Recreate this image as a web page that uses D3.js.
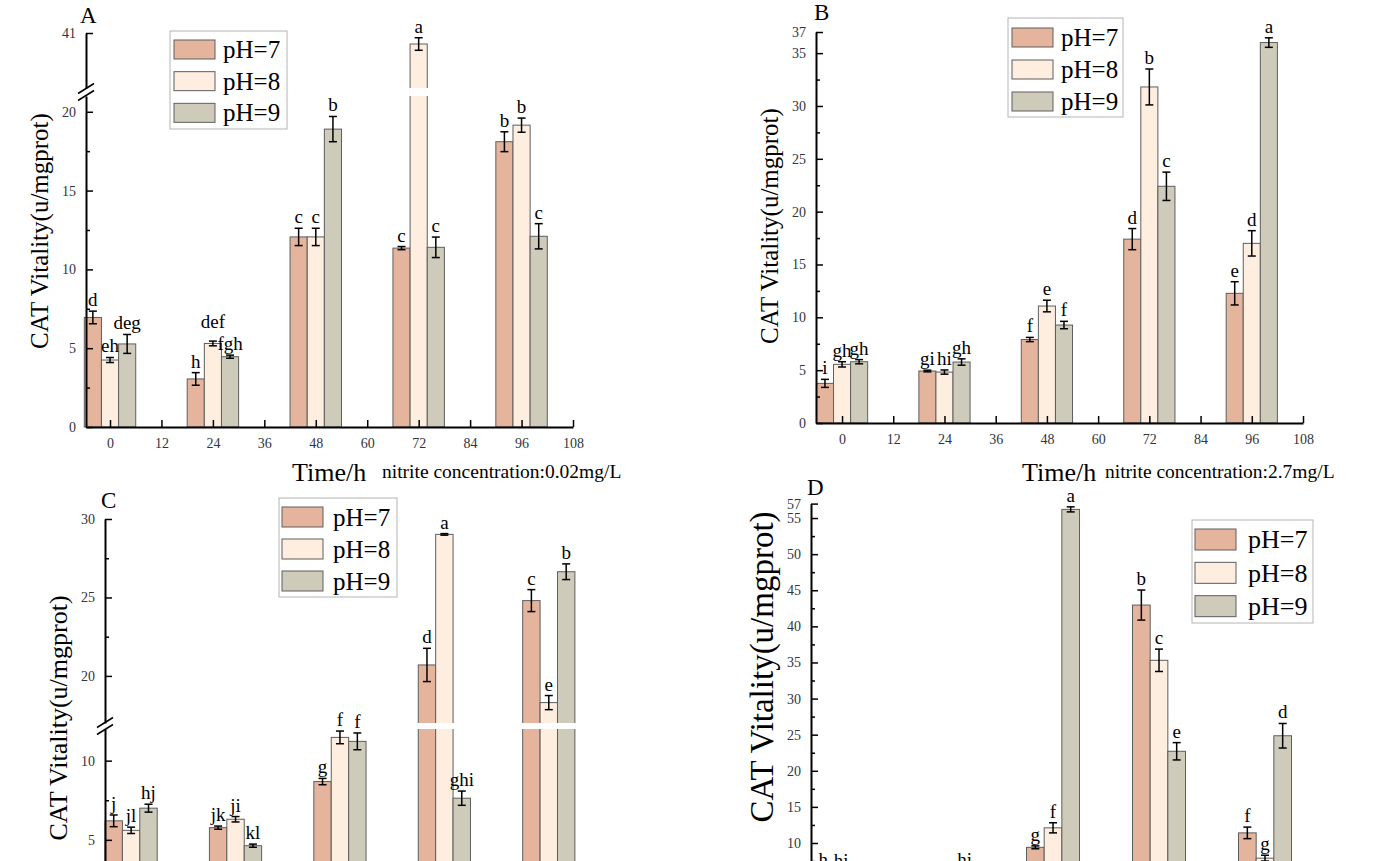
<!DOCTYPE html>
<html>
<head>
<meta charset="utf-8">
<script src="https://cdn.jsdelivr.net/npm/d3@7"></script>
<style>
  body { margin: 0; background: #fff; }
  text { font-family: "Liberation Serif", "Times New Roman", serif; }
</style>
</head>
<body>
<svg id="chart" width="1400" height="861"></svg>
<script>
// data
const times = [0, 24, 48, 72, 96];
const series = ["pH=7", "pH=8", "pH=9"];
const colors = ["#e5b49d", "#fdeee0", "#cecbbb"];
const xTicks = [0, 12, 24, 36, 48, 60, 72, 84, 96, 108];

// rows = pH7, pH8, pH9 ; columns = times
const meansA = [[6.95, 3.05, 12.06, 11.35, 18.1], [4.25, 5.3, 12.06, 40.3, 19.15], [5.27, 4.46, 18.9, 11.4, 12.1]];
const errA = [[0.4, 0.4, 0.55, 0.1, 0.63], [0.16, 0.15, 0.55, 0.4, 0.45], [0.6, 0.1, 0.8, 0.65, 0.8]];
const lettersA = [["d", "h", "c", "c", "b"], ["eh", "def", "c", "a", "b"], ["deg", "fgh", "b", "c", "c"]];

const meansB = [[3.75, 4.92, 7.9, 17.4, 12.27], [5.55, 4.82, 11.07, 31.8, 17.0], [5.8, 5.77, 9.27, 22.4, 36.0]];
const errB = [[0.38, 0.08, 0.2, 1.0, 1.1], [0.25, 0.2, 0.55, 1.7, 1.2], [0.2, 0.3, 0.35, 1.34, 0.45]];
const lettersB = [["i", "gi", "f", "d", "e"], ["gh", "hi", "e", "b", "d"], ["gh", "gh", "f", "c", "a"]];

const meansC = [[6.2, 5.77, 8.68, 20.7, 24.8], [5.6, 6.3, 11.47, 29.02, 18.3], [7.0, 4.63, 11.22, 7.63, 26.64]];
const errC = [[0.37, 0.1, 0.2, 1.06, 0.7], [0.2, 0.17, 0.4, 0.05, 0.45], [0.25, 0.1, 0.53, 0.45, 0.5]];
const lettersC = [["j", "jk", "g", "d", "c"], ["jl", "ji", "f", "a", "e"], ["hj", "kl", "f", "ghi", "b"]];

const meansD = [[5.7, 4.0, 9.4, 42.95, 11.4], [5.6, 4.2, 12.1, 35.3, 7.9], [4.6, 5.7, 56.2, 22.7, 24.85]];
const errD = [[0.4, 0.2, 0.2, 2.08, 0.8], [0.4, 0.3, 0.7, 1.55, 0.4], [0.3, 0.4, 0.35, 1.2, 1.7]];
const lettersD = [["h", "i", "g", "b", "f"], ["hi", "j", "f", "c", "g"], ["ij", "hi", "a", "e", "d"]];

// letters the authors lifted by hand to keep them apart: [series, time index, extra px]
const nudgeA = [[1, 1, 8]];

const svg = d3.select("#chart");

const panels = [
  { name: "A", means: meansA, err: errA, letters: lettersA, nudge: nudgeA,
    xDomain: [-5.6, 108], xRange: [86, 573],
    loDomain: [0, 21], loRange: [427, 96], loTicks: [0, 5, 10, 15, 20], loMinor: [2.5, 7.5, 12.5, 17.5],
    hiDomain: [37.5, 41], hiRange: [88, 33], hiTicks: [41], hiMinor: [],
    ylab: [48, 231, 25], label: [80, 23], nitrite: "nitrite concentration:0.02mg/L",
    title: [292, 481], nitX: 382, legend: [170, 31, 117, 98, 174, 40, 223, 25, 19] },
  { name: "B", means: meansB, err: errB, letters: lettersB, nudge: [],
    xDomain: [-6.1, 108], xRange: [816, 1303],
    loDomain: [0, 37], loRange: [423, 32], loTicks: [0, 5, 10, 15, 20, 25, 30, 35, 37],
    loMinor: [2.5, 7.5, 12.5, 17.5, 22.5, 27.5, 32.5],
    ylab: [778, 226, 25], label: [814, 20], nitrite: "nitrite concentration:2.7mg/L",
    title: [1022, 481], nitX: 1105, legend: [1008, 18, 115, 99, 1012, 28, 1061, 25, 19] },
  { name: "C", means: meansC, err: errC, letters: lettersC, nudge: [],
    xDomain: [-6, 108], xRange: [105, 601],
    loDomain: [0, 12], loRange: [919, 729], loTicks: [0, 5, 10], loMinor: [2.5, 7.5],
    hiDomain: [17, 30], hiRange: [723, 519], hiTicks: [20, 25, 30], hiMinor: [22.5, 27.5],
    ylab: [67, 718, 26], label: [101, 508], nitrite: null,
    title: null, nitX: 0, legend: [279, 498, 118, 99, 282, 507, 333, 25, 20] },
  { name: "D", means: meansD, err: errD, letters: lettersD, nudge: [],
    xDomain: [-6.8, 108], xRange: [811, 1318],
    loDomain: [0, 57], loRange: [915.2, 503.6], loTicks: [0, 5, 10, 15, 20, 25, 30, 35, 40, 45, 50, 55, 57],
    loMinor: [2.5, 7.5, 12.5, 17.5, 22.5, 27.5, 32.5, 37.5, 42.5, 47.5, 52.5],
    ylab: [773, 667, 33], label: [807, 495], nitrite: null,
    title: null, nitX: 0, legend: [1192, 520, 121, 103, 1195, 529, 1248, 26, 21] }
];

function styleAxis(sel, tickW) {
  sel.select(".domain").attr("stroke", "#000").attr("stroke-width", 2);
  sel.selectAll(".tick line").attr("stroke", "#000").attr("stroke-width", tickW);
  sel.selectAll(".tick text")
    .attr("fill", "#30343f")
    .style("font-family", "'Liberation Serif', serif")
    .style("font-size", "14px");
}

function drawPanel(p) {
  const g = svg.append("g").attr("class", "panel-" + p.name);

  const x = d3.scaleLinear().domain(p.xDomain).range(p.xRange);
  const lo = d3.scaleLinear().domain(p.loDomain).range(p.loRange);
  const hi = p.hiDomain ? d3.scaleLinear().domain(p.hiDomain).range(p.hiRange) : null;
  const y = v => (hi && v >= p.hiDomain[0]) ? hi(v) : lo(v);
  const onCanvas = lo(0) < 861;

  const bw = x(4) - x(0);
  const sub = d3.scaleBand().domain(series).range([-1.5 * bw, 1.5 * bw]);

  const rows = [];
  p.means.forEach((arr, si) => arr.forEach((v, ti) => {
    const n = p.nudge.find(q => q[0] === si && q[1] === ti);
    rows.push({ s: series[si], si: si, t: times[ti], v: v, e: p.err[si][ti],
                l: p.letters[si][ti], dy: n ? n[2] : 0 });
  }));

  // bars
  g.selectAll(".bar").data(rows).join("rect")
    .attr("class", "bar")
    .attr("x", d => x(d.t) + sub(d.s))
    .attr("width", sub.bandwidth())
    .attr("y", d => y(d.v))
    .attr("height", d => lo(0) - y(d.v))
    .attr("fill", d => colors[d.si])
    .attr("stroke", "#5e5e5e")
    .attr("stroke-width", 1);

  // white gap where a bar crosses the axis break
  if (hi) {
    g.selectAll(".gap").data(rows.filter(d => d.v >= p.hiDomain[0])).join("rect")
      .attr("class", "gap")
      .attr("x", d => x(d.t) + sub(d.s) - 1)
      .attr("width", sub.bandwidth() + 2)
      .attr("y", hi(p.hiDomain[0]))
      .attr("height", lo(p.loDomain[1]) - hi(p.hiDomain[0]))
      .attr("fill", "#fff");
  }

  // error bars
  const eb = g.selectAll(".err").data(rows).join("g").attr("class", "err")
    .attr("stroke", "#000").attr("stroke-width", 1.5);
  eb.append("line")
    .attr("x1", d => x(d.t) + sub(d.s) + sub.bandwidth() / 2)
    .attr("x2", d => x(d.t) + sub(d.s) + sub.bandwidth() / 2)
    .attr("y1", d => y(d.v - d.e))
    .attr("y2", d => y(d.v + d.e));
  [-1, 1].forEach(k => {
    eb.append("line")
      .attr("x1", d => x(d.t) + sub(d.s) + sub.bandwidth() / 2 - 4)
      .attr("x2", d => x(d.t) + sub(d.s) + sub.bandwidth() / 2 + 4)
      .attr("y1", d => y(d.v + k * d.e))
      .attr("y2", d => y(d.v + k * d.e));
  });

  // significance letters
  g.selectAll(".letter").data(rows).join("text")
    .attr("class", "letter")
    .attr("x", d => x(d.t) + sub(d.s) + sub.bandwidth() / 2)
    .attr("y", d => y(d.v + d.e) - 5 - d.dy)
    .attr("text-anchor", "middle")
    .style("font-size", "19px")
    .text(d => d.l);

  // x axis (tick labels only when the axis is inside the picture)
  const xAxis = d3.axisBottom(x).tickValues(xTicks).tickSize(-7).tickSizeOuter(0).tickPadding(11);
  if (!onCanvas) xAxis.tickFormat("");
  const xa = g.append("g")
    .attr("transform", `translate(0,${lo(0)})`)
    .call(xAxis);
  styleAxis(xa, 1.5);

  // y axis, lower segment
  const ax = p.xRange[0];
  const ya = g.append("g").attr("transform", `translate(${ax},0)`)
    .call(d3.axisLeft(lo).tickValues(p.loTicks.filter(v => lo(v) < 861))
      .tickFormat(d3.format("d")).tickSize(-7).tickSizeOuter(0).tickPadding(10));
  styleAxis(ya, 1.5);
  const ym = g.append("g").attr("transform", `translate(${ax},0)`)
    .call(d3.axisLeft(lo).tickValues(p.loMinor).tickSize(-4).tickFormat(""));
  ym.select(".domain").remove();
  ym.selectAll(".tick line").attr("stroke", "#000").attr("stroke-width", 1.5);

  if (hi) {
    const yh = g.append("g").attr("transform", `translate(${ax},0)`)
      .call(d3.axisLeft(hi).tickValues(p.hiTicks).tickFormat(d3.format("d"))
        .tickSize(-7).tickSizeOuter(0).tickPadding(10));
    styleAxis(yh, 1.5);
    const yhm = g.append("g").attr("transform", `translate(${ax},0)`)
      .call(d3.axisLeft(hi).tickValues(p.hiMinor).tickSize(-4).tickFormat(""));
    yhm.select(".domain").remove();
    yhm.selectAll(".tick line").attr("stroke", "#000").attr("stroke-width", 1.5);

    // break marks
    const yc = (lo(p.loDomain[1]) + hi(p.hiDomain[0])) / 2;
    [-3.5, 3.5].forEach(dd => {
      g.append("line")
        .attr("x1", ax - 8).attr("y1", yc + dd + 5)
        .attr("x2", ax + 8).attr("y2", yc + dd - 5)
        .attr("stroke", "#000").attr("stroke-width", 1.5);
    });
  }

  // y title
  g.append("text")
    .attr("transform", `translate(${p.ylab[0]},${p.ylab[1]}) rotate(-90)`)
    .attr("text-anchor", "middle")
    .style("font-size", p.ylab[2] + "px")
    .text("CAT Vitality(u/mgprot)");

  // panel letter
  g.append("text")
    .attr("x", p.label[0]).attr("y", p.label[1])
    .style("font-size", "23px")
    .text(p.name);

  // x title
  if (p.title) {
    g.append("text")
      .attr("x", p.title[0]).attr("y", p.title[1])
      .style("font-size", "26px")
      .text("Time/h");
  }
  if (p.nitrite) {
    g.append("text")
      .attr("x", p.nitX).attr("y", p.title[1] - 3)
      .style("font-size", "19.5px")
      .text(p.nitrite);
  }

  // legend: box x, y, w, h, swatch x, first row y, text x, font, swatch h
  const L = p.legend;
  const lg = g.append("g");
  lg.append("rect")
    .attr("x", L[0]).attr("y", L[1]).attr("width", L[2]).attr("height", L[3])
    .attr("fill", "#fff").attr("stroke", "#b4b4b4").attr("stroke-width", 1);
  const step = (L[3] - 3) / 3;
  series.forEach((s, i) => {
    lg.append("rect")
      .attr("x", L[4]).attr("y", L[5] + i * step)
      .attr("width", 41).attr("height", L[8])
      .attr("fill", colors[i]).attr("stroke", "#5e5e5e").attr("stroke-width", 1);
    lg.append("text")
      .attr("x", L[6]).attr("y", L[5] + i * step + L[8] / 2 + L[7] * 0.34)
      .style("font-size", L[7] + "px")
      .text(s);
  });
}

panels.forEach(drawPanel);
</script>
</body>
</html>
